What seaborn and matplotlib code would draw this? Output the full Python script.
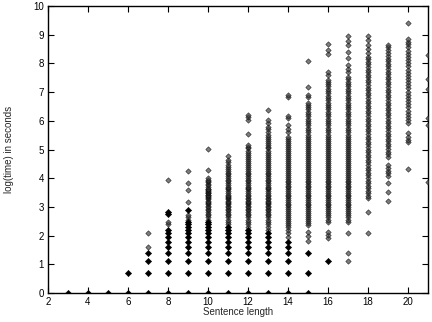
import pandas as pd
import matplotlib
matplotlib.use('Agg')
import matplotlib.pyplot as plt
import seaborn as sns

# log(time) values, one list per sentence length
t3 = [0]
t4 = [0]
t5 = [0]
t6 = [0, 0.69]
t7 = [0, 0.69, 1.10, 1.39, 1.61, 2.08]
t8 = [0, 0.69, 1.10, 1.39, 1.61, 1.79, 1.95, 2.08, 2.20, 2.40, 2.48, 2.77, 2.83, 3.95]
t9 = [0, 0.69, 1.10, 1.39, 1.61, 1.79, 1.95, 2.08, 2.20, 2.30, 2.40, 2.48, 2.56, 2.64,
      2.71, 2.89, 3.18, 3.58, 3.85, 4.26]
t10 = [0, 0.69, 1.10, 1.39, 1.61, 1.79, 1.95, 2.08, 2.20, 2.30, 2.40, 2.48, 2.56, 2.64,
       2.71, 2.77, 2.83, 2.89, 2.94, 3.00, 3.04, 3.09, 3.14, 3.18, 3.22, 3.26, 3.30, 3.33,
       3.37, 3.40, 3.43, 3.47, 3.50, 3.53, 3.56, 3.58, 3.61, 3.64, 3.71, 3.76, 3.81, 3.87,
       3.91, 3.95, 4.01, 4.29, 5.01]
t11 = [0, 0.69, 1.10, 1.39, 1.61, 1.79, 1.95, 2.08, 2.20, 2.30, 2.40, 2.48, 2.56, 2.64,
       2.71, 2.77, 2.83, 2.89, 2.94, 3.00, 3.04, 3.09, 3.14, 3.18, 3.22, 3.26, 3.30, 3.33,
       3.37, 3.43, 3.50, 3.56, 3.61, 3.66, 3.71, 3.78, 3.83, 3.89, 3.95, 4.01, 4.08, 4.14,
       4.20, 4.25, 4.33, 4.40, 4.47, 4.55, 4.62, 4.77]
t12 = [0, 0.69, 1.10, 1.39, 1.61, 1.79, 1.95, 2.08, 2.20, 2.30, 2.40, 2.48, 2.56, 2.64,
       2.71, 2.77, 2.83, 2.89, 2.94, 3.00, 3.04, 3.09, 3.14, 3.18, 3.22, 3.26, 3.30, 3.37,
       3.43, 3.50, 3.56, 3.61, 3.66, 3.71, 3.78, 3.83, 3.89, 3.95, 4.01, 4.08, 4.14, 4.20,
       4.26, 4.33, 4.40, 4.46, 4.53, 4.60, 4.67, 4.74, 4.82, 4.89, 4.96, 5.04, 5.10, 5.16,
       5.56, 6.03, 6.12, 6.20]
t13 = [0, 0.69, 1.10, 1.39, 1.61, 1.79, 1.95, 2.08, 2.20, 2.30, 2.40, 2.48, 2.56, 2.64,
       2.71, 2.77, 2.83, 2.89, 2.94, 3.00, 3.04, 3.09, 3.14, 3.18, 3.22, 3.26, 3.30, 3.37,
       3.43, 3.50, 3.56, 3.61, 3.66, 3.71, 3.78, 3.83, 3.89, 3.95, 4.01, 4.08, 4.14, 4.20,
       4.26, 4.33, 4.40, 4.46, 4.53, 4.60, 4.67, 4.74, 4.82, 4.89, 4.96, 5.04, 5.10, 5.16,
       5.22, 5.29, 5.36, 5.45, 5.52, 5.61, 5.70, 5.80, 5.91, 6.03, 6.38]
t14 = [0, 0.69, 1.10, 1.39, 1.61, 1.79, 1.95, 2.08, 2.20, 2.30, 2.37, 2.44, 2.51, 2.58,
       2.65, 2.72, 2.79, 2.86, 2.93, 3.00, 3.06, 3.12, 3.18, 3.24, 3.30, 3.37, 3.43, 3.50,
       3.56, 3.62, 3.68, 3.74, 3.80, 3.86, 3.92, 3.98, 4.04, 4.10, 4.17, 4.24, 4.31, 4.38,
       4.45, 4.52, 4.59, 4.66, 4.73, 4.80, 4.87, 4.94, 5.01, 5.08, 5.15, 5.22, 5.30, 5.37,
       5.45, 5.60, 5.72, 5.85, 6.09, 6.17, 6.84, 6.90]
t15 = [0, 0.69, 1.40, 1.82, 1.99, 2.14, 2.37, 2.44, 2.51, 2.58, 2.65, 2.72, 2.79, 2.86,
       2.93, 3.00, 3.06, 3.12, 3.18, 3.24, 3.30, 3.37, 3.43, 3.50, 3.56, 3.62, 3.68, 3.74,
       3.80, 3.86, 3.92, 3.98, 4.04, 4.10, 4.17, 4.24, 4.31, 4.38, 4.45, 4.52, 4.59, 4.66,
       4.73, 4.80, 4.87, 4.94, 5.01, 5.08, 5.15, 5.22, 5.30, 5.37, 5.45, 5.52, 5.60, 5.68,
       5.76, 5.84, 5.92, 6.00, 6.08, 6.16, 6.24, 6.32, 6.40, 6.48, 6.55, 6.61, 6.84, 6.90,
       7.19, 8.10]
t16 = [1.11, 1.92, 2.03, 2.14, 2.49, 2.56, 2.64, 2.71, 2.79, 2.86, 2.93, 3.00, 3.06, 3.12,
       3.18, 3.24, 3.30, 3.37, 3.43, 3.50, 3.56, 3.62, 3.68, 3.74, 3.80, 3.86, 3.92, 3.98,
       4.04, 4.10, 4.17, 4.24, 4.31, 4.38, 4.45, 4.52, 4.59, 4.66, 4.73, 4.80, 4.87, 4.94,
       5.01, 5.08, 5.15, 5.22, 5.30, 5.37, 5.45, 5.52, 5.60, 5.68, 5.76, 5.84, 5.92, 6.00,
       6.08, 6.16, 6.24, 6.32, 6.40, 6.48, 6.56, 6.64, 6.72, 6.80, 6.88, 6.96, 7.04, 7.12,
       7.20, 7.28, 7.35, 7.42, 7.60, 7.71, 8.33, 8.47, 8.68]
t17 = [1.11, 1.40, 2.09, 2.48, 2.56, 2.64, 2.71, 2.79, 2.86, 2.93, 3.00, 3.06, 3.12, 3.18,
       3.24, 3.30, 3.37, 3.43, 3.50, 3.56, 3.62, 3.68, 3.74, 3.80, 3.86, 3.92, 3.98, 4.04,
       4.10, 4.17, 4.24, 4.31, 4.38, 4.45, 4.52, 4.59, 4.66, 4.73, 4.80, 4.87, 4.94, 5.01,
       5.08, 5.15, 5.22, 5.30, 5.37, 5.45, 5.52, 5.60, 5.68, 5.76, 5.84, 5.92, 6.00, 6.08,
       6.16, 6.24, 6.32, 6.40, 6.48, 6.56, 6.64, 6.72, 6.80, 6.88, 6.96, 7.04, 7.12, 7.20,
       7.28, 7.36, 7.45, 7.54, 7.71, 7.82, 7.94, 8.18, 8.41, 8.64, 8.78, 8.95]
t18 = [2.10, 2.83, 3.30, 3.38, 3.47, 3.56, 3.65, 3.74, 3.83, 3.92, 4.01, 4.10, 4.19, 4.28,
       4.37, 4.46, 4.55, 4.64, 4.73, 4.82, 4.91, 5.00, 5.09, 5.18, 5.27, 5.36, 5.45, 5.54,
       5.63, 5.72, 5.81, 5.90, 5.99, 6.08, 6.17, 6.26, 6.35, 6.44, 6.53, 6.62, 6.71, 6.80,
       6.89, 6.98, 7.07, 7.16, 7.25, 7.34, 7.43, 7.52, 7.61, 7.70, 7.79, 7.88, 7.97, 8.06,
       8.15, 8.23, 8.35, 8.50, 8.64, 8.82, 8.95]
t19 = [3.22, 3.53, 3.82, 4.08, 4.17, 4.27, 4.37, 4.46, 4.75, 4.84, 4.93, 5.02, 5.11, 5.20,
       5.29, 5.38, 5.47, 5.56, 5.65, 5.74, 5.83, 5.92, 6.01, 6.10, 6.19, 6.28, 6.37, 6.46,
       6.55, 6.64, 6.73, 6.82, 6.91, 7.00, 7.09, 7.18, 7.27, 7.36, 7.45, 7.54, 7.63, 7.72,
       7.81, 7.90, 7.99, 8.08, 8.17, 8.26, 8.35, 8.47, 8.58, 8.64]
t20 = [4.34, 5.27, 5.35, 5.45, 5.57, 5.92, 6.03, 6.14, 6.25, 6.36, 6.47, 6.58, 6.69, 6.80,
       6.91, 7.02, 7.13, 7.24, 7.35, 7.46, 7.57, 7.68, 7.79, 7.90, 8.01, 8.12, 8.23, 8.34,
       8.45, 8.56, 8.67, 8.76, 8.84, 9.40]
t21 = [3.88, 5.86, 6.10, 7.11, 7.45, 8.30]

# values hit by many sentences (drawn as solid black marks in the chart)
many3 = [0]
many4 = [0]
many5 = [0]
many6 = [0, 0.69]
many7 = [0, 0.69, 1.10, 1.39]
many8 = [0, 0.69, 1.10, 1.39, 1.61, 1.79, 1.95, 2.08, 2.20, 2.77, 2.83]
many9 = [0, 0.69, 1.10, 1.39, 1.61, 1.79, 1.95, 2.08, 2.20, 2.30, 2.40, 2.48, 2.89]
many10 = [0, 0.69, 1.10, 1.39, 1.61, 1.79, 1.95, 2.08, 2.20, 2.30, 2.40, 2.48]
many11 = [0, 0.69, 1.10, 1.39, 1.61, 1.79, 1.95, 2.08, 2.20, 2.30]
many12 = [0, 0.69, 1.10, 1.39, 1.61, 1.79, 1.95, 2.08, 2.20]
many13 = [0, 0.69, 1.10, 1.39, 1.61, 1.79, 1.95, 2.08]
many14 = [0, 0.69, 1.10, 1.39, 1.61, 1.79]
many15 = [0, 0.69, 1.40]
many16 = [1.11]

singles = {3: t3, 4: t4, 5: t5, 6: t6, 7: t7, 8: t8, 9: t9, 10: t10, 11: t11, 12: t12,
           13: t13, 14: t14, 15: t15, 16: t16, 17: t17, 18: t18, 19: t19, 20: t20, 21: t21}
repeated = {3: many3, 4: many4, 5: many5, 6: many6, 7: many7, 8: many8, 9: many9,
            10: many10, 11: many11, 12: many12, 13: many13, 14: many14, 15: many15,
            16: many16}

rows = []
for n, vals in singles.items():
    rep = repeated.get(n, [])
    for v in vals:
        rows.append((n, v, 'many' if v in rep else 'one'))
df = pd.DataFrame(rows, columns=['length', 'logtime', 'kind'])

sns.set_style('ticks')
plt.rcParams['font.family'] = ['Liberation Sans', 'DejaVu Sans']

fig = plt.figure(figsize=(4.32, 3.22), dpi=100)
ax = fig.add_axes([0.111, 0.09, 0.8797, 0.891])

one = df[df['kind'] == 'one']
many = df[df['kind'] == 'many']
# overlapping marks build up to black, like the dense columns in the original
sns.scatterplot(data=one, x='length', y='logtime', ax=ax, marker='D', s=7.5,
                color='#404040', edgecolor='black', linewidth=0.5, alpha=0.68,
                zorder=3)
sns.scatterplot(data=many, x='length', y='logtime', ax=ax, marker='D', s=10,
                color='black', edgecolor='black', linewidth=0.4, zorder=4)

ax.set_xlim(2, 21)
ax.set_ylim(0, 10)
ax.set_xticks(range(2, 21, 2))
ax.set_yticks(range(0, 11))
ax.tick_params(direction='in', length=4, width=0.8, labelsize=7, colors='black',
               top=True, right=True, pad=3)
for sp in ax.spines.values():
    sp.set_linewidth(1.0)
    sp.set_color('black')
ax.set_xlabel('Sentence length', fontsize=7, labelpad=0)
ax.set_ylabel('log(time) in seconds', fontsize=7, labelpad=14)

fig.savefig('out.png', dpi=100)
